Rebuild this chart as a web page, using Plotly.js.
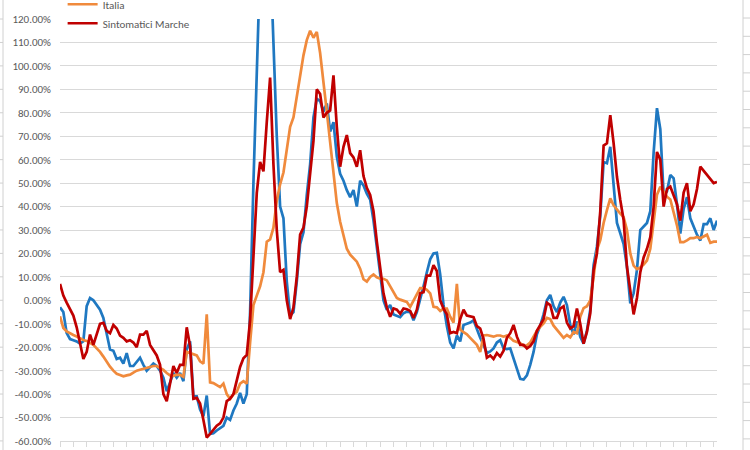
<!DOCTYPE html>
<html>
<head>
<meta charset="utf-8">
<script src="https://cdn.plot.ly/plotly-3.0.1.min.js"></script>
<style>html,body{margin:0;padding:0;background:#fff;}#chart{width:750px;height:450px;}</style>
</head>
<body>
<div id="chart"></div>
<script>
// Values in percent, one value per period (198 periods)
const marche = [
-3,-5,-14,-16.5,-17,-17.5,-18.5,-17.5,-2.5,1,
0,-2,-4,-7.5,-15,-21,-21.5,-25,-24.5,-27,
-22.5,-28,-28,-26,-24.5,-27.5,-30,-28.5,-27,-28,
-30,-33,-38.8,-35,-31,-33,-31,-34.5,-21,-17.5,
-41,-41,-46.6,-49.5,-40.6,-57,-56.7,-55.5,-54.5,-53.5,
-50,-51,-47,-44,-39.5,-44,-40,-5,50,105,
150,190,180,150,110,70,40,35,8,-6.5,
-5,8,24,29,45,58,78,86,85,80.5,
84,72,76,61.3,54,51,47,44,47,40,
51,49,45.5,43,34,22.8,11.6,0,-4,-2,
-6,-6.5,-7.2,-5.5,-4.8,-5,-8.5,-5,0,6,
12,17.5,20,20.3,11,-2,-11,-18,-20.5,-15,
-17.5,-10.5,-10,-9.5,-8.5,-12.5,-16,-19,-22.5,-21.8,
-20.5,-18,-17,-20.5,-20.8,-20.5,-25,-30,-33.5,-33.8,
-32,-27.5,-22,-14.5,-10.8,-6,0,2.3,-2.5,-5,
-1,1.5,-2,-10.5,-14.5,-9,-15.6,-18.5,-13,-4,
15,23,36,59,58.5,65.5,50,33,28.6,24,
14.3,-1.3,3,13,30,31.5,33,38,63,82,
73,45,46.5,53.5,52,41,28.5,39,44,35,
31.5,28,25.5,32.5,32.5,35,30,34
];
const italia = [
-6.8,-11.8,-13.3,-14.2,-14.8,-15.4,-16.3,-16.9,-17.3,-18,
-19,-20.5,-22,-24,-26.3,-28.3,-30,-31.3,-31.8,-32.4,
-32,-31.7,-30.8,-30,-29.6,-29.2,-28.8,-28.4,-28,-28,
-28.7,-29.7,-31,-32,-32.2,-31.7,-31.8,-32.6,-22,-22.5,
-23.2,-23.5,-26,-27,-6,-35,-35.3,-36,-37,-35.5,
-40,-42,-40,-39,-35.5,-34.5,-35.5,-18,-2,2,
6,12,25,26,31,42.5,49.5,54.5,64,74,
78,87,97.5,104.5,111,115,112,114.5,105.5,94,
80.5,67.5,53.5,41.5,33.5,27,22,19.5,18,16.5,
13.5,9,8,10,11,9.8,9.2,9.2,8.5,6,
3,1,0.3,-0.2,-0.7,-2.8,0,2.5,5.2,5.2,
4.5,3,-2.8,-3,-4.5,-3.5,-3.5,-7,-9.5,7,
-12.5,-13.6,-14.5,-16,-17.5,-19,-22,-15,-14.8,-15,
-15.5,-15,-15,-15.5,-15,-16,-17.3,-17.8,-18.3,-19.4,
-19.2,-18,-15.5,-13,-11.3,-9.8,-7.5,-8,-10.8,-12.5,
-14.5,-16,-14.8,-15.8,-13.5,-14,-7,-3.3,-2.5,0,
10,21.5,25.7,33,38.5,43.5,40.5,38.5,37,35.5,
30,20,14.8,13.3,14,15.3,17,22,34,45,
48.4,46.5,44.2,43,37.5,32,24.8,24.8,25.6,26.5,
26.5,27,26.5,27.2,28,24.5,25,25
];
const sintomaticiMarche = [
7,2,-1,-3.5,-6.5,-11.5,-19,-25,-22,-14.6,
-19,-14.5,-10,-9.6,-13,-14,-10.5,-12,-15,-16,
-17.5,-17,-18,-20,-14.6,-14.6,-13,-19,-21,-23.5,
-27.5,-40,-43,-36,-28,-31,-27.5,-27.5,-11.5,-19.6,
-42,-41.6,-44,-51,-58.5,-57,-55,-53.5,-52.5,-50,
-43,-42,-40,-34,-28.4,-24.7,-23.3,-8.4,20,45.7,
59,55,76,95,58,30,12,13,0,-8,
-3,10,28,31,40,52.7,68,90,88,78,
80,81,96,74,57,65.5,70.5,62.8,61,57,
64,53,48,45,38,25,13,3,-3,-7,
-3.5,-4,-5.7,-3.5,-3.8,-4.5,-7.5,-4,3,3.5,
10.5,10.5,15,12.5,0,-3.5,-6,-14,-13.5,-14,
-8,-4,-6.5,-7,-7.2,-11,-12,-16.5,-24.5,-23.5,
-25,-22.5,-24,-21.5,-16,-14,-10.5,-15.5,-19,-19,
-20.5,-19.5,-17.5,-13,-10.5,-8,-1,-2,-7.5,-7.5,
-3.5,-2.5,-9.5,-12,-11,-3.5,-10,-18.5,-13.5,-5.5,
13,20,38,66,67,79,67,52.7,42.8,34.3,
14.3,4,-6,1,12,18.3,22,27,40,63.3,
60,40,47.5,48.5,45,41,34,46,50,38,
41,47.5,57,55.3,53.5,52,50,50.5
];
const period = marche.map((_, i) => i);
const yTickVals = [-60,-50,-40,-30,-20,-10,0,10,20,30,40,50,60,70,80,90,100,110,120];
const yTickLabels = ["-60.00%","-50.00%","-40.00%","-30.00%","-20.00%","-10.00%","0.00%","10.00%","20.00%","30.00%","40.00%","50.00%","60.00%","70.00%","80.00%","90.00%","100.00%","110.00%","120.00%"];
const seriesNames = ["Marche", "Italia", "Sintomatici Marche"];

const font = "Calibri, Carlito, 'Liberation Sans', Arial, sans-serif";
const traces = [
  {x: period, y: marche, name: seriesNames[0], type: 'scatter', mode: 'lines', showlegend: false,
   line: {color: '#1F78C1', width: 2.7}},
  {x: period, y: italia, name: seriesNames[1], type: 'scatter', mode: 'lines',
   line: {color: '#F08A3C', width: 2.7}},
  {x: period, y: sintomaticiMarche, name: seriesNames[2], type: 'scatter', mode: 'lines',
   line: {color: '#C00000', width: 2.7}}
];

// decorative frame pieces of the spreadsheet window
const shapes = [];
const ppx = p => (p - 60) / 657;   // pixel -> paper x
const ppy = p => (441 - p) / 422;  // pixel -> paper y
shapes.push({type:'line', xref:'paper', yref:'paper', x0:ppx(3), x1:ppx(3), y0:ppy(0), y1:ppy(450), line:{color:'#d0d0d0', width:1}});
shapes.push({type:'line', xref:'paper', yref:'paper', x0:ppx(743), x1:ppx(743), y0:ppy(0), y1:ppy(450), line:{color:'#d0d0d0', width:1}});
for (let p = 18; p < 450; p += 18.3) {
  shapes.push({type:'line', xref:'paper', yref:'paper', x0:ppx(743), x1:ppx(750), y0:ppy(p), y1:ppy(p), line:{color:'#d0d0d0', width:1}});
}
for (let p = 19; p < 450; p += 23.44) {
  shapes.push({type:'line', xref:'paper', yref:'paper', x0:ppx(0), x1:ppx(3), y0:ppy(p), y1:ppy(p), line:{color:'#d0d0d0', width:1}});
}

const xTicks = period.filter(i => i % 4 === 0);

const layout = {
  width: 750, height: 450,
  margin: {l: 60, r: 33, t: 19, b: 9, autoexpand: false},
  paper_bgcolor: '#ffffff', plot_bgcolor: '#ffffff',
  font: {family: font, size: 11, color: '#595959'},
  showlegend: true,
  legend: {x: 0.004, y: 1.0693, xanchor: 'left', yanchor: 'top', bgcolor: 'rgba(0,0,0,0)',
           font: {family: font, size: 11, color: '#595959'}, traceorder: 'normal'},
  xaxis: {range: [0, 197], showgrid: false, zeroline: false, showline: true, linecolor: '#d9d9d9', linewidth: 1,
          ticks: 'outside', ticklen: 5, tickcolor: '#d9d9d9', tickvals: xTicks, showticklabels: false, fixedrange: true},
  yaxis: {range: [-60, 120], tickvals: yTickVals, ticktext: yTickLabels, showgrid: true, gridcolor: '#d9d9d9', gridwidth: 1,
          zeroline: false, showline: false, ticks: '', ticklabelstandoff: 8,
          tickfont: {family: font, size: 11, color: '#595959'}, fixedrange: true},
  shapes: shapes
};

Plotly.newPlot('chart', traces, layout, {displayModeBar: false, staticPlot: true});
</script>
</body>
</html>
